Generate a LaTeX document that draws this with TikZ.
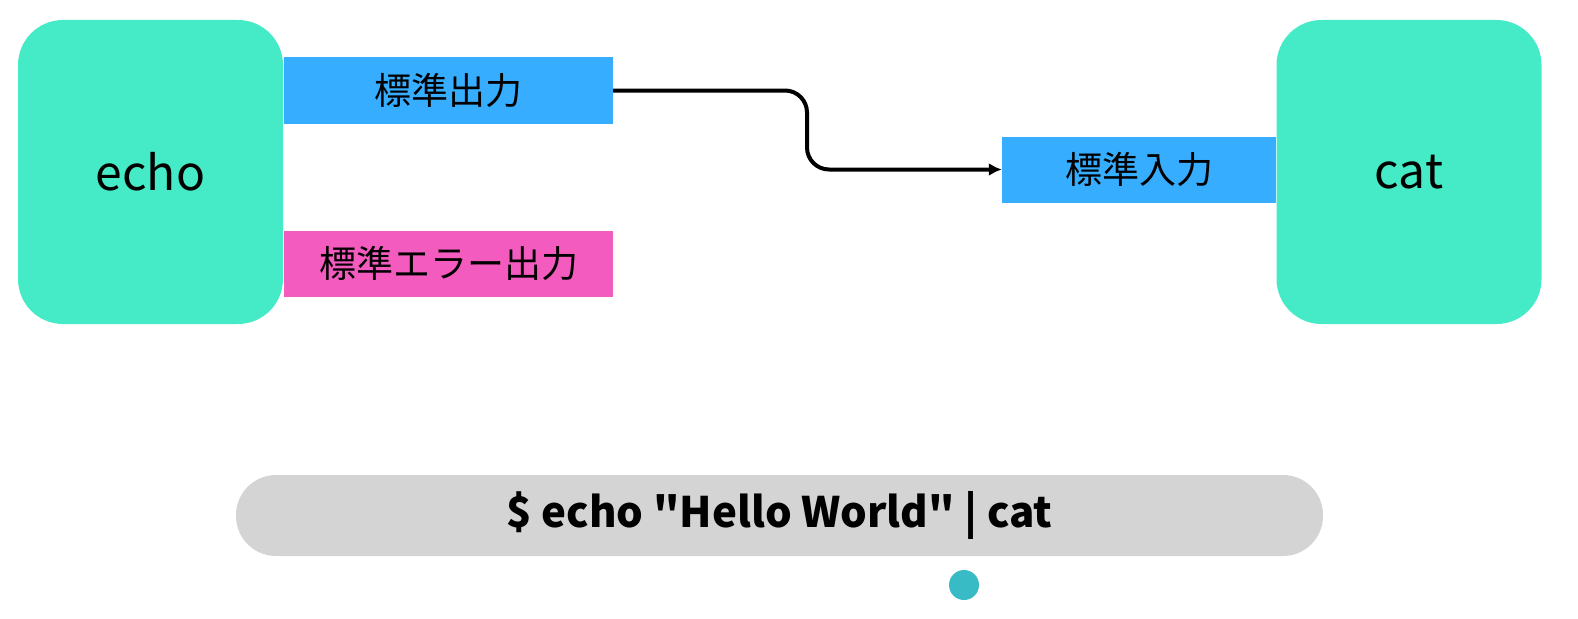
\documentclass[tikz,border=0pt]{standalone}
\usepackage{fontspec}
\setmainfont{Noto Sans CJK JP}
\newfontfamily\cmdfont{Noto Sans CJK JP}[Ligatures=ResetAll]
\usetikzlibrary{arrows.meta}
\definecolor{mint}{HTML}{45EBC6}
\definecolor{stdblue}{HTML}{36ADFE}
\definecolor{stdpink}{HTML}{F35BBE}
\definecolor{pillgray}{HTML}{D4D4D4}
\definecolor{dotteal}{HTML}{38BBC5}
\tikzset{
  proc/.style={fill=mint, rounded corners=45pt, minimum width=265pt, minimum height=304pt, inner sep=0pt, font=\fontsize{48}{50}\selectfont},
  stream/.style={inner sep=0pt, minimum height=66pt, font=\fontsize{37}{40}\selectfont},
  pipe/.style={line width=4pt, -{Latex[length=13pt,width=13pt]}, rounded corners=22pt},
}
\begin{document}
\begin{tikzpicture}[x=1pt,y=-1pt]
\useasboundingbox (0,0) rectangle (1578,618);
\node[proc] (echo) at (150.5,172) {echo};
\node[proc] (cat) at (1409,172) {cat};
\node[stream, fill=stdblue, minimum width=329pt] (stdout) at (448.5,90.5) {標準出力};
\node[stream, fill=stdpink, minimum width=329pt] (stderr) at (448.5,263.5) {標準エラー出力};
\node[stream, fill=stdblue, minimum width=274pt] (stdin) at (1139,169.5) {標準入力};
\coordinate (bend) at (807,130);
\draw[pipe] (stdout.east) -- (stdout.east -| bend) -- (bend |- stdin.west) -- (stdin.west);
\node[fill=pillgray, rounded corners=40pt, minimum width=1087pt, minimum height=81pt, inner sep=0pt, font=\cmdfont\bfseries\fontsize{42}{46}\selectfont] (cmd) at (779.5,515.5) {\$ echo "Hello World" | cat};
\node[circle, fill=dotteal, minimum size=30pt, inner sep=0pt] (dot) at (964,585) {};
\end{tikzpicture}
\end{document}
